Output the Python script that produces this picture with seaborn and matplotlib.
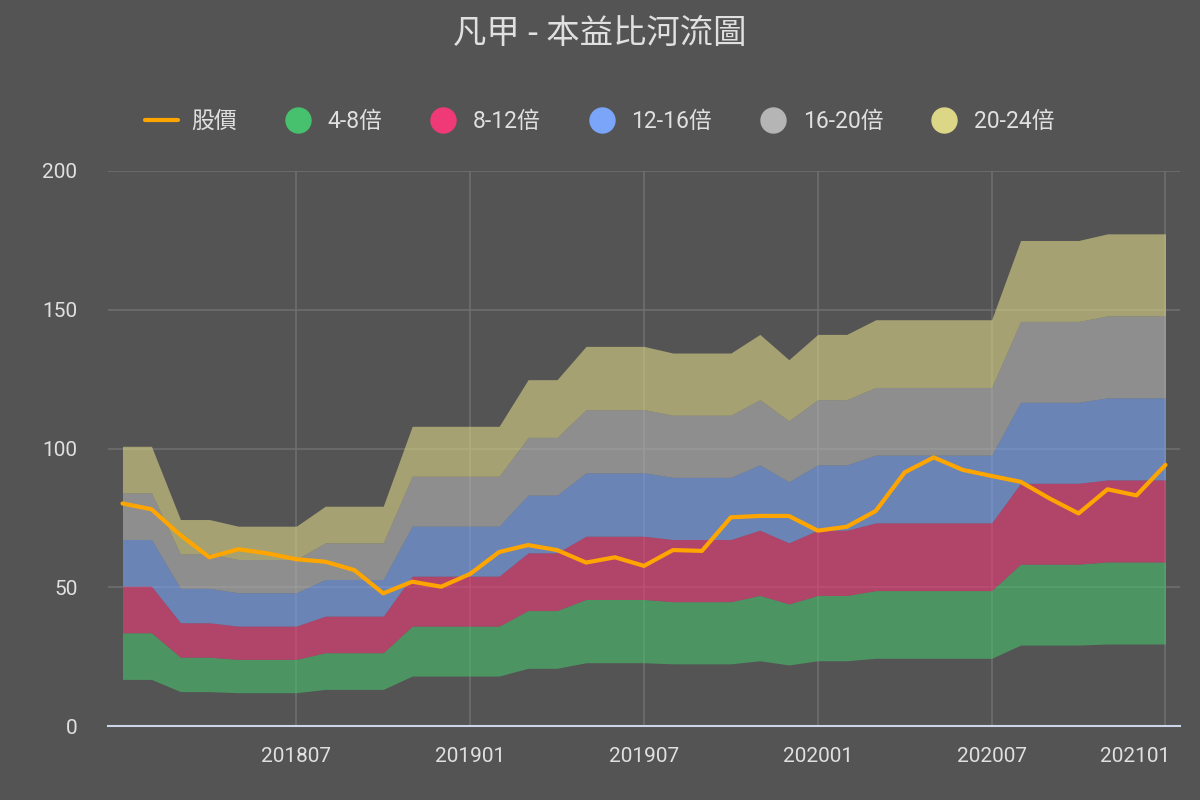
import pandas as pd
import matplotlib.pyplot as plt
import seaborn as sns
from matplotlib.lines import Line2D
from matplotlib.transforms import ScaledTranslation

# monthly data, 201801 - 202101
months = [p.strftime('%Y%m') for p in pd.period_range('2018-01', '2021-01', freq='M')]

# trailing EPS used as the base of the river (4倍 line = 4 * eps)
eps = [4.20, 4.20, 3.10, 3.10, 3.00, 3.00, 3.00, 3.30, 3.30, 3.30,
       4.50, 4.50, 4.50, 4.50, 5.20, 5.20, 5.70, 5.70, 5.70, 5.60,
       5.60, 5.60, 5.88, 5.50, 5.88, 5.88, 6.10, 6.10, 6.10, 6.10,
       6.10, 7.29, 7.29, 7.29, 7.39, 7.39, 7.39]

price = [80.2, 78.1, 68.8, 60.8, 63.7, 62.2, 60.1, 59.2, 56.2, 47.8,
         52.0, 50.2, 54.8, 62.7, 65.2, 63.4, 58.9, 60.8, 57.7, 63.4,
         63.1, 75.2, 75.7, 75.7, 70.4, 71.8, 77.5, 91.4, 96.8, 92.3,
         90.1, 88.0, 82.0, 76.6, 85.3, 83.1, 94.1]

pe_levels = [4, 8, 12, 16, 20, 24]
band_names = ['4-8倍', '8-12倍', '12-16倍', '16-20倍', '20-24倍']
band_colors = ['#48c16e', '#f03a78', '#7aa5f9', '#b5b5b5', '#dcd687']

df = pd.DataFrame({'idx': range(len(months)), 'month': months, 'eps': eps, '股價': price})
for pe in pe_levels:
    df[f'pe{pe}'] = df['eps'] * pe

bg = '#545454'
txt = '#e0e0e0'
sns.set_theme(style='dark')
plt.rcParams['font.family'] = ['Roboto', 'Noto Sans CJK TC', 'DejaVu Sans']

fig = plt.figure(figsize=(12, 8), dpi=100, facecolor=bg)
ax = fig.add_axes([0.09, 0.0925, 0.8933, 0.69375])
ax.set_facecolor(bg)

for i, name in enumerate(band_names):
    ax.fill_between(df['idx'], df[f'pe{pe_levels[i]}'], df[f'pe{pe_levels[i + 1]}'],
                    color=band_colors[i], alpha=0.6, linewidth=0, zorder=2)

sns.lineplot(data=df, x='idx', y='股價', color='#ffa500', linewidth=3, ax=ax, zorder=4)

ax.set_xlim(-0.5, 36.5)
ax.set_ylim(0, 200)
ax.set_yticks([0, 50, 100, 150, 200])
tick_pos = [6, 12, 18, 24, 30, 36]
ax.set_xticks(tick_pos)
ax.set_xticklabels([months[i] for i in tick_pos])
ax.tick_params(axis='both', colors=txt, labelsize=15, length=0)
ax.tick_params(axis='x', pad=15)
ax.tick_params(axis='y', pad=22)
ax.set_xlabel('')
ax.set_ylabel('')

# last label is pulled back inside the plot area
last = ax.get_xticklabels()[-1]
last.set_transform(last.get_transform() + ScaledTranslation(-30 / 100, 0, fig.dpi_scale_trans))

ax.grid(True, color='#6e6e6e', linewidth=1.2, zorder=1)
ax.set_axisbelow(True)
for s in ['top', 'right', 'left']:
    ax.spines[s].set_visible(False)
ax.spines['bottom'].set_color('#ccd6eb')
ax.spines['bottom'].set_linewidth(1.5)
ax.spines['bottom'].set_zorder(5)

fig.text(0.5, 0.958, '凡甲 - 本益比河流圖', ha='center', va='center', color=txt,
         fontsize=24, family=['Noto Sans CJK TC'], fontweight='light')

handles = [Line2D([0], [0], color='#ffa500', linewidth=3)]
handles += [Line2D([0], [0], marker='o', linestyle='', markersize=18,
                   markerfacecolor=c, markeredgecolor=c) for c in band_colors]
labels = ['股價'] + band_names
leg = fig.legend(handles, labels, loc='center', bbox_to_anchor=(0.5, 0.848), ncol=6,
                 frameon=False, fontsize=16.5, handlelength=1.4, columnspacing=1.95,
                 handletextpad=0.6, labelcolor=txt)

plt.savefig('out.png', dpi=100, facecolor=bg)
